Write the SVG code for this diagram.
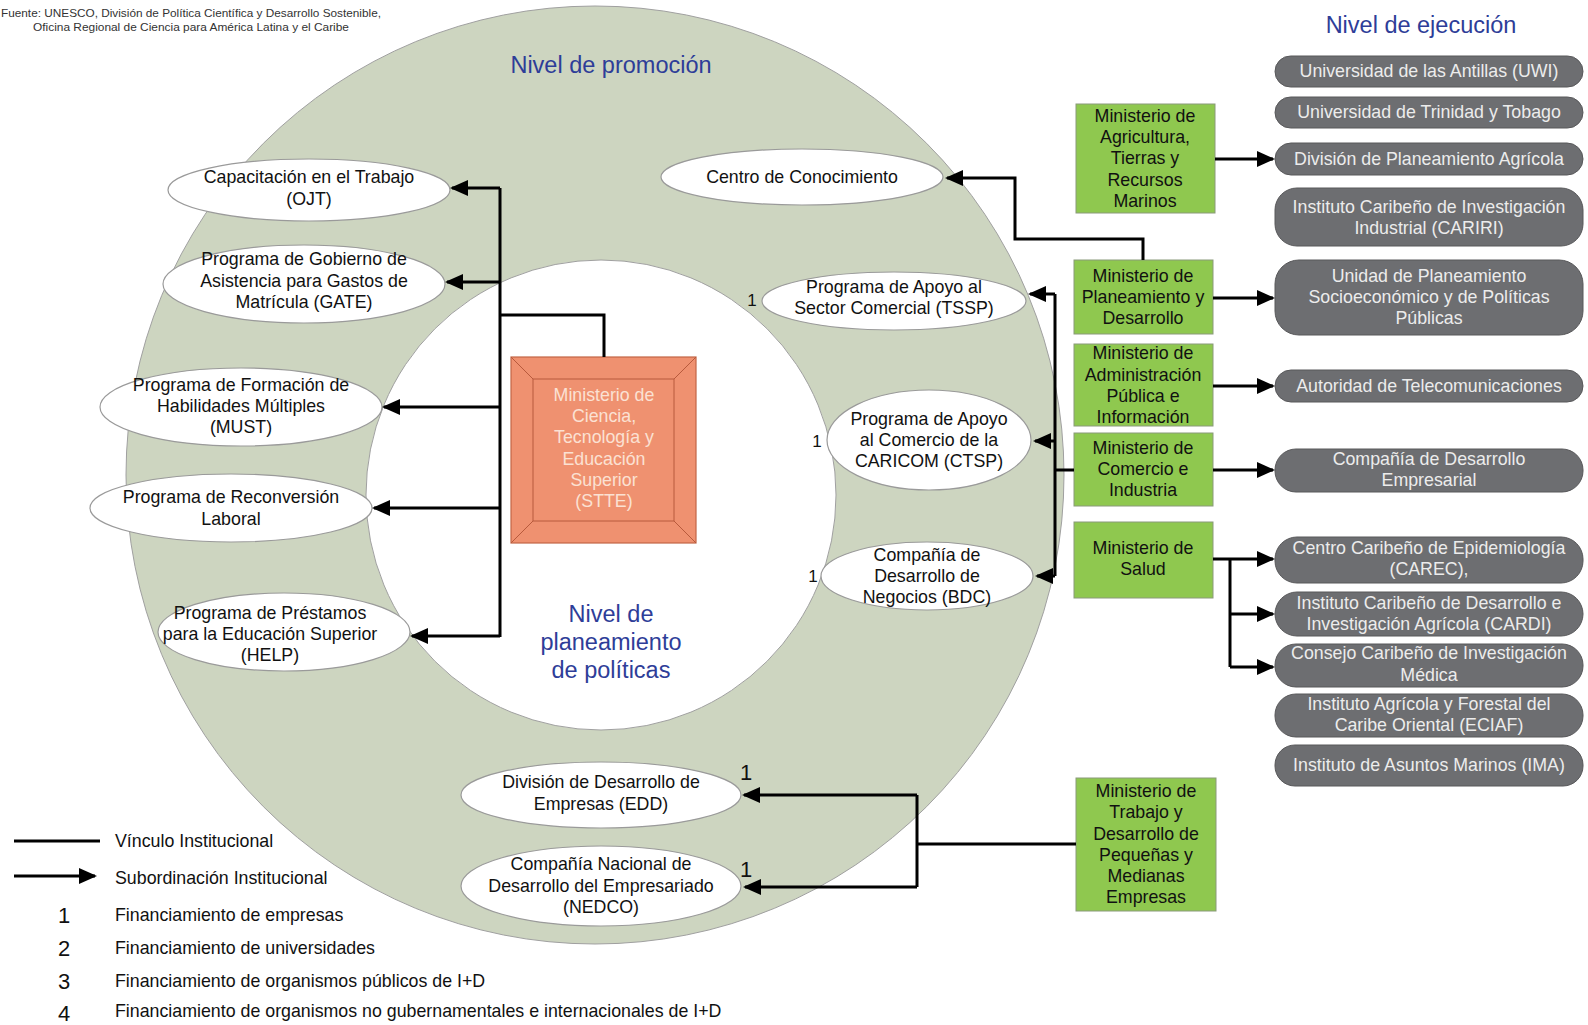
<svg xmlns="http://www.w3.org/2000/svg" width="1588" height="1025" viewBox="0 0 1588 1025">
<style>
text{font-family:"Liberation Sans",Arial,sans-serif;font-size:17.8px;fill:#111;text-anchor:middle}
.src{font-size:11px;fill:#333}
.ttl{font-size:23.5px;fill:#2E3D98}
.pt{fill:#ECECEC}
.st{fill:#FBE1D3}
.lg{text-anchor:start}
.num{font-size:22px}
.one{font-size:17px}
.el{fill:#fff;stroke:#9a9a9a;stroke-width:1.2}
.gb{fill:#8FC84F;stroke:#8a9a7a;stroke-width:1}
.pill{fill:#6D6E71;stroke:#58585a;stroke-width:1}
.cn{fill:none;stroke:#000;stroke-width:3}
.ar{marker-end:url(#ah)}
</style>
<defs>
<marker id="ah" markerUnits="userSpaceOnUse" markerWidth="20" markerHeight="18" refX="16" refY="8" orient="auto">
<path d="M0,0 L18,8 L0,16 z" fill="#000"/>
</marker>
</defs>
<rect width="1588" height="1025" fill="#fff"/>
<g id="source">
<text class="src" x="191" y="17" textLength="380" lengthAdjust="spacingAndGlyphs">Fuente: UNESCO, División de Política Científica y Desarrollo Sostenible,</text>
<text class="src" x="191" y="31" textLength="316" lengthAdjust="spacingAndGlyphs">Oficina Regional de Ciencia para América Latina y el Caribe</text>
</g>
<g id="rings">
<circle cx="595" cy="475" r="469" fill="#CDD5C0" stroke="#a0a0a0" stroke-width="1"/>
<circle cx="601" cy="495" r="235" fill="#fff" stroke="#a0a0a0" stroke-width="1"/>
<text class="ttl" x="611" y="73">Nivel de promoción</text>
<text class="ttl" x="611" y="622">Nivel de</text>
<text class="ttl" x="611" y="650">planeamiento</text>
<text class="ttl" x="611" y="678">de políticas</text>
</g>
<text class="ttl" x="1421" y="33">Nivel de ejecución</text>

<g id="ojt"><ellipse class="el" cx="309" cy="190" rx="141" ry="31"/>
<text x="309" y="183">Capacitación en el Trabajo</text><text x="309" y="205">(OJT)</text></g>
<g id="gate"><ellipse class="el" cx="304" cy="284" rx="141" ry="39"/>
<text x="304" y="265">Programa de Gobierno de</text><text x="304" y="287">Asistencia para Gastos de</text><text x="304" y="308">Matrícula (GATE)</text></g>
<g id="must"><ellipse class="el" cx="241" cy="407" rx="141" ry="39"/>
<text x="241" y="391">Programa de Formación de</text><text x="241" y="412">Habilidades Múltiples</text><text x="241" y="433">(MUST)</text></g>
<g id="recon"><ellipse class="el" cx="231" cy="508" rx="141" ry="34"/>
<text x="231" y="503">Programa de Reconversión</text><text x="231" y="525">Laboral</text></g>
<g id="help"><ellipse class="el" cx="284" cy="632" rx="126" ry="39"/>
<text x="270" y="619">Programa de Préstamos</text><text x="270" y="640">para la Educación Superior</text><text x="270" y="661">(HELP)</text></g>

<g id="centro"><ellipse class="el" cx="802" cy="177" rx="141" ry="28"/>
<text x="802" y="183">Centro de Conocimiento</text></g>
<g id="tssp"><ellipse class="el" cx="894" cy="301" rx="132" ry="29"/>
<text x="894" y="293">Programa de Apoyo al</text><text x="894" y="314">Sector Comercial (TSSP)</text></g>
<g id="ctsp"><ellipse class="el" cx="929" cy="440" rx="102" ry="50"/>
<text x="929" y="425">Programa de Apoyo</text><text x="929" y="446">al Comercio de la</text><text x="929" y="467">CARICOM (CTSP)</text></g>
<g id="bdc"><ellipse class="el" cx="927" cy="576" rx="106" ry="34"/>
<text x="927" y="561">Compañía de</text><text x="927" y="582">Desarrollo de</text><text x="927" y="603">Negocios (BDC)</text></g>
<g id="edd"><ellipse class="el" cx="601" cy="795" rx="140" ry="33"/>
<text x="601" y="788">División de Desarrollo de</text><text x="601" y="810">Empresas (EDD)</text></g>
<g id="nedco"><ellipse class="el" cx="601" cy="886" rx="140" ry="40"/>
<text x="601" y="870">Compañía Nacional de</text><text x="601" y="892">Desarrollo del Empresariado</text><text x="601" y="913">(NEDCO)</text></g>

<g id="stte">
<rect x="511" y="357" width="185" height="186" fill="#EF9170" stroke="#C26545" stroke-width="1.2"/>
<rect x="533" y="379" width="141" height="142" fill="#EF9170" stroke="#B85A3C" stroke-width="1"/>
<path d="M511,357 L533,379 M696,357 L674,379 M511,543 L533,521 M696,543 L674,521" stroke="#B85A3C" stroke-width="1"/>
<text class="st" x="604" y="401">Ministerio de</text>
<text class="st" x="604" y="422">Ciencia,</text>
<text class="st" x="604" y="443">Tecnología y</text>
<text class="st" x="604" y="465">Educación</text>
<text class="st" x="604" y="486">Superior</text>
<text class="st" x="604" y="507">(STTE)</text>
</g>

<g id="min-agricultura"><rect class="gb" x="1076" y="104" width="139" height="109"/>
<text x="1145" y="122">Ministerio de</text><text x="1145" y="143">Agricultura,</text><text x="1145" y="164">Tierras y</text><text x="1145" y="186">Recursos</text><text x="1145" y="207">Marinos</text></g>
<g id="min-planeamiento"><rect class="gb" x="1074" y="260" width="139" height="74"/>
<text x="1143" y="282">Ministerio de</text><text x="1143" y="303">Planeamiento y</text><text x="1143" y="324">Desarrollo</text></g>
<g id="min-administracion"><rect class="gb" x="1074" y="344" width="139" height="82"/>
<text x="1143" y="359">Ministerio de</text><text x="1143" y="381">Administración</text><text x="1143" y="402">Pública e</text><text x="1143" y="423">Información</text></g>
<g id="min-comercio"><rect class="gb" x="1074" y="433" width="139" height="73"/>
<text x="1143" y="454">Ministerio de</text><text x="1143" y="475">Comercio e</text><text x="1143" y="496">Industria</text></g>
<g id="min-salud"><rect class="gb" x="1074" y="522" width="139" height="76"/>
<text x="1143" y="554">Ministerio de</text><text x="1143" y="575">Salud</text></g>
<g id="min-trabajo"><rect class="gb" x="1076" y="778" width="140" height="133"/>
<text x="1146" y="797">Ministerio de</text><text x="1146" y="818">Trabajo y</text><text x="1146" y="840">Desarrollo de</text><text x="1146" y="861">Pequeñas y</text><text x="1146" y="882">Medianas</text><text x="1146" y="903">Empresas</text></g>

<g id="uwi"><rect class="pill" x="1275" y="56" width="308" height="31" rx="15.5"/><text class="pt" x="1429" y="77">Universidad de las Antillas (UWI)</text></g>
<g id="utt"><rect class="pill" x="1275" y="97" width="308" height="31" rx="15.5"/><text class="pt" x="1429" y="118">Universidad de Trinidad y Tobago</text></g>
<g id="dpa"><rect class="pill" x="1275" y="143" width="308" height="32" rx="16"/><text class="pt" x="1429" y="165">División de Planeamiento Agrícola</text></g>
<g id="cariri"><rect class="pill" x="1275" y="188" width="308" height="58" rx="22"/><text class="pt" x="1429" y="213">Instituto Caribeño de Investigación</text><text class="pt" x="1429" y="234">Industrial (CARIRI)</text></g>
<g id="upsp"><rect class="pill" x="1275" y="260" width="308" height="75" rx="24"/><text class="pt" x="1429" y="282">Unidad de Planeamiento</text><text class="pt" x="1429" y="303">Socioeconómico y de Políticas</text><text class="pt" x="1429" y="324">Públicas</text></g>
<g id="telecom"><rect class="pill" x="1275" y="370" width="308" height="32" rx="16"/><text class="pt" x="1429" y="392">Autoridad de Telecomunicaciones</text></g>
<g id="cde"><rect class="pill" x="1275" y="449" width="308" height="43" rx="21"/><text class="pt" x="1429" y="465">Compañía de Desarrollo</text><text class="pt" x="1429" y="486">Empresarial</text></g>
<g id="carec"><rect class="pill" x="1275" y="537" width="308" height="46" rx="22"/><text class="pt" x="1429" y="554">Centro Caribeño de Epidemiología</text><text class="pt" x="1429" y="575">(CAREC),</text></g>
<g id="cardi"><rect class="pill" x="1275" y="592" width="308" height="44" rx="22"/><text class="pt" x="1429" y="609">Instituto Caribeño de Desarrollo e</text><text class="pt" x="1429" y="630">Investigación Agrícola (CARDI)</text></g>
<g id="ccim"><rect class="pill" x="1275" y="644" width="308" height="43" rx="21"/><text class="pt" x="1429" y="659">Consejo Caribeño de Investigación</text><text class="pt" x="1429" y="681">Médica</text></g>
<g id="eciaf"><rect class="pill" x="1275" y="694" width="308" height="43" rx="21"/><text class="pt" x="1429" y="710">Instituto Agrícola y Forestal del</text><text class="pt" x="1429" y="731">Caribe Oriental (ECIAF)</text></g>
<g id="ima"><rect class="pill" x="1275" y="745" width="308" height="41" rx="20"/><text class="pt" x="1429" y="771">Instituto de Asuntos Marinos (IMA)</text></g>

<g id="connectors">
<path class="cn" d="M500,188 V637 M604,357 V315 H500"/>
<path class="cn ar" d="M500,188 H452"/>
<path class="cn ar" d="M500,282 H447"/>
<path class="cn ar" d="M500,407 H384"/>
<path class="cn ar" d="M500,508 H374"/>
<path class="cn ar" d="M500,636 H412"/>
<path class="cn ar" d="M1143,260 V239 H1015 V178 H947"/>
<path class="cn" d="M1055,294 V576 M1074,470 H1055"/>
<path class="cn ar" d="M1055,294 H1030"/>
<path class="cn ar" d="M1055,441 H1035"/>
<path class="cn ar" d="M1055,576 H1037"/>
<path class="cn" d="M1076,844 H917 M917,795 V887"/>
<path class="cn ar" d="M917,795 H744"/>
<path class="cn ar" d="M917,887 H745"/>
<path class="cn ar" d="M1215,159 H1273"/>
<path class="cn ar" d="M1213,298 H1273"/>
<path class="cn ar" d="M1213,386 H1273"/>
<path class="cn ar" d="M1213,470 H1273"/>
<path class="cn ar" d="M1213,559 H1273"/>
<path class="cn" d="M1230,559 V667"/>
<path class="cn ar" d="M1230,614 H1273"/>
<path class="cn ar" d="M1230,667 H1273"/>
</g>
<g id="labels">
<text class="one" x="752" y="306">1</text>
<text class="one" x="817" y="447">1</text>
<text class="one" x="813" y="582">1</text>
<text class="num" x="746" y="780">1</text>
<text class="num" x="746" y="877">1</text>
</g>
<g id="legend">
<path class="cn" d="M14,841 H100"/>
<path class="cn ar" d="M14,876 H95"/>
<text class="lg" x="115" y="847">Vínculo Institucional</text>
<text class="lg" x="115" y="884">Subordinación Institucional</text>
<text class="num" x="64" y="923">1</text>
<text class="num" x="64" y="956">2</text>
<text class="num" x="64" y="989">3</text>
<text class="num" x="64" y="1021">4</text>
<text class="lg" x="115" y="921">Financiamiento de empresas</text>
<text class="lg" x="115" y="954">Financiamiento de universidades</text>
<text class="lg" x="115" y="987">Financiamiento de organismos públicos de I+D</text>
<text class="lg" x="115" y="1017">Financiamiento de organismos no gubernamentales e internacionales de I+D</text>
</g>
</svg>
